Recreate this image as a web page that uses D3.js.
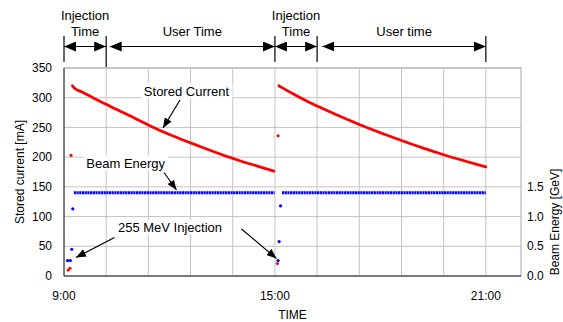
<!DOCTYPE html>
<html>
<head>
<meta charset="utf-8">
<script src="https://cdn.jsdelivr.net/npm/d3@7"></script>
<style>
  body { margin: 0; background: #fff; }
  svg text { font-family: "Liberation Sans", Arial, sans-serif; fill: #000; }
</style>
</head>
<body>
<div id="chart"></div>
<script>
// hours after 9:00
var storedA = [[0.24,320],[0.3,316],[0.5,310],[0.82,300],[1.2,289],[1.5,280],[2.0,266],[2.44,253],
               [3.0,238],[3.6,224],[4.0,215],[4.72,199.5],[5.0,194],[5.5,185],[5.97,176.5]];
var storedB = [[6.11,320],[6.2,317],[6.5,307],[7.0,291.5],[7.2,286],[7.8,270],[8.4,255],[9.0,241],
               [9.6,228],[10.2,215.5],[10.8,204],[11.4,193.5],[12.0,183.5]];
var injCurrent = [[0.12,10],[0.17,13],[0.2,203],[6.07,21],[6.09,236]];
var injEnergy = [[0.1,0.26],[0.18,0.26],[0.22,0.45],[0.25,1.13],[6.09,0.26],[6.12,0.58],[6.16,1.18]];
var energyRuns = [[0.28,5.99],[6.2,12.0]];
var energyLevel = 1.4;

var yTicks = [0,50,100,150,200,250,300,350];
var eTicks = [0,0.5,1.0,1.5];
var xTicks = [0,6,12];
var xTickLabels = ["9:00","15:00","21:00"];
var gridStep = 1.2;

var periods = [
  {from:0,   to:1.2,  label:["Injection","Time"]},
  {from:1.3, to:6.0,  label:["User Time"]},
  {from:6.0, to:7.2,  label:["Injection","Time"]},
  {from:7.35,to:12.0, label:["User time"]}
];
var periodBounds = [0,1.2,6.0,7.2,12.0];

var W = 563, H = 322;
var svg = d3.select("#chart").append("svg").attr("width", W).attr("height", H);

var x = d3.scaleLinear().domain([0,13]).range([64,521]);
var y = d3.scaleLinear().domain([0,350]).range([276,68]);
var yE = d3.scaleLinear().domain([0,3.5]).range([276,68]);

var defs = svg.append("defs");
defs.append("marker").attr("id","ah").attr("viewBox","0 0 10 8")
    .attr("refX",10).attr("refY",4).attr("markerWidth",10).attr("markerHeight",8)
    .attr("markerUnits","userSpaceOnUse").attr("orient","auto")
    .append("path").attr("d","M0,0L10,4L0,8Z").attr("fill","#000");
defs.append("marker").attr("id","bh").attr("viewBox","0 0 12 10")
    .attr("refX",12).attr("refY",5).attr("markerWidth",12).attr("markerHeight",10)
    .attr("markerUnits","userSpaceOnUse").attr("orient","auto-start-reverse")
    .append("path").attr("d","M0,0L12,5L0,10Z").attr("fill","#000");

// grid
var gridX = d3.range(0, 12.001, gridStep);
svg.append("g").selectAll("line").data(gridX).enter().append("line")
   .attr("x1", d => x(d)).attr("x2", d => x(d)).attr("y1", y(0)).attr("y2", y(350))
   .attr("stroke","#c4c4c4").attr("stroke-width",1);
svg.append("g").selectAll("line").data(yTicks).enter().append("line")
   .attr("x1", x(0)).attr("x2", x(13)).attr("y1", d => y(d)).attr("y2", d => y(d))
   .attr("stroke","#c4c4c4").attr("stroke-width",1);
svg.append("rect").attr("x", x(0)).attr("y", y(350)).attr("width", x(13)-x(0)).attr("height", y(0)-y(350))
   .attr("fill","none").attr("stroke","#a8a8a8");
svg.append("line").attr("x1",x(0)).attr("x2",x(0)).attr("y1",y(0)).attr("y2",y(350)).attr("stroke","#333");
svg.append("line").attr("x1",x(0)).attr("x2",x(13)).attr("y1",y(0)).attr("y2",y(0)).attr("stroke","#333");

// tick labels
svg.append("g").selectAll("text").data(yTicks).enter().append("text")
   .attr("x", 52).attr("y", d => y(d)).attr("dy","0.35em").attr("text-anchor","end")
   .style("font-size","12px").text(d => d);
svg.append("g").selectAll("text").data(eTicks).enter().append("text")
   .attr("x", 527).attr("y", d => yE(d)).attr("dy","0.35em").attr("text-anchor","start")
   .style("font-size","12px").text(d => d.toFixed(1));
svg.append("g").selectAll("text").data(xTicks).enter().append("text")
   .attr("x", d => x(d)).attr("y", 296).attr("dy","0.35em").attr("text-anchor","middle")
   .style("font-size","12px").text((d,i) => xTickLabels[i]);

svg.append("text").attr("x", (x(0)+x(13))/2).attr("y", 315).attr("dy","0.35em")
   .attr("text-anchor","middle").style("font-size","12px").text("TIME");
svg.append("text").attr("transform","translate(20,"+((y(0)+y(350))/2)+") rotate(-90)")
   .attr("dy","0.35em").attr("text-anchor","middle").style("font-size","12px").text("Stored current [mA]");
svg.append("text").attr("transform","translate(555,222) rotate(-90)")
   .attr("dy","0.35em").attr("text-anchor","middle").style("font-size","12px").text("Beam Energy [GeV]");

// series
var line = d3.line().x(d => x(d[0])).y(d => y(d[1])).curve(d3.curveMonotoneX);
[storedA, storedB].forEach(function(seg) {
  svg.append("path").attr("d", line(seg)).attr("fill","none")
     .attr("stroke","#ff0000").attr("stroke-width",2.8).attr("stroke-linecap","round");
});
svg.append("g").selectAll("line").data(energyRuns).enter().append("line")
   .attr("x1", d => x(d[0])).attr("x2", d => x(d[1]))
   .attr("y1", yE(energyLevel)).attr("y2", yE(energyLevel))
   .attr("stroke","#0000ff").attr("stroke-width",3).attr("stroke-dasharray","2.2,0.5");
svg.append("g").selectAll("circle").data(injCurrent).enter().append("circle")
   .attr("cx", d => x(d[0])).attr("cy", d => y(d[1])).attr("r",1.6).attr("fill","#ff0000");
svg.append("g").selectAll("circle").data(injEnergy).enter().append("circle")
   .attr("cx", d => x(d[0])).attr("cy", d => yE(d[1])).attr("r",1.6).attr("fill","#0000ff");

// annotations
function note(txt, tx, ty) {
  var t = svg.append("text").attr("x", tx).attr("y", ty).attr("dy","0.35em")
     .attr("text-anchor","middle").style("font-size","13px").text(txt);
  var b = t.node().getBBox();
  svg.insert("rect", function() { return t.node(); })
     .attr("x", b.x-3).attr("y", b.y).attr("width", b.width+6).attr("height", b.height).attr("fill","#fff");
}
function arrow(x1, y1, x2, y2) {
  svg.append("line").attr("x1",x1).attr("y1",y1).attr("x2",x2).attr("y2",y2)
     .attr("stroke","#000").attr("stroke-width",1.2).attr("marker-end","url(#ah)");
}
note("Stored Current", 186.5, 91);
arrow(180, 100, 163, 128);
note("Beam Energy", 125.7, 163);
arrow(164, 172.5, 176.5, 190);
note("255 MeV Injection", 170, 227.5);
arrow(114.5, 237.5, 76, 257.5);
arrow(241.5, 229, 276.5, 258.5);

// period brackets
svg.append("g").selectAll("line").data(periodBounds).enter().append("line")
   .attr("x1", d => x(d)).attr("x2", d => x(d))
   .attr("y1", 36).attr("y2", (d,i) => i === 1 ? 67 : 62)
   .attr("stroke","#000").attr("stroke-width",1.2);
svg.append("g").selectAll("line").data(periods).enter().append("line")
   .attr("x1", d => x(d.from)).attr("x2", d => x(d.to)).attr("y1",46.5).attr("y2",46.5)
   .attr("stroke","#000").attr("stroke-width",1.2)
   .attr("marker-start","url(#bh)").attr("marker-end","url(#bh)");
periods.forEach(function(p) {
  var cx = (x(p.from) + x(p.to)) / 2;
  var lines = p.label;
  lines.forEach(function(s, i) {
    var yy = lines.length === 2 ? (i === 0 ? 15 : 31) : 31;
    svg.append("text").attr("x", cx).attr("y", yy).attr("dy","0.35em")
       .attr("text-anchor","middle").style("font-size","13px").text(s);
  });
});
</script>
</body>
</html>
